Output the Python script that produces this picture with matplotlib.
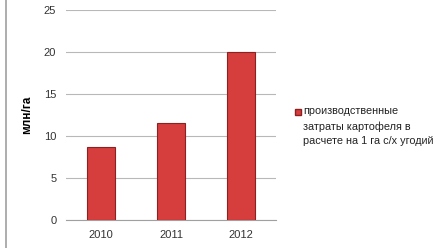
import matplotlib.pyplot as plt
from matplotlib.lines import Line2D

years = ['2010', '2011', '2012']
costs = [8.7, 11.5, 20.0]
legend_label = 'производственные\nзатраты картофеля в\nрасчете на 1 га с/х угодий'

plt.rcParams['font.family'] = ['Liberation Sans', 'DejaVu Sans']

fig = plt.figure(figsize=(4.42, 2.48), dpi=100)
ax = fig.add_axes([66 / 442, 28 / 248, 210 / 442, 210 / 248])

x = range(len(years))
ax.bar(x, costs, width=0.41, color='#d63d3d', edgecolor='#8e2020', linewidth=0.8, zorder=3)

ax.set_xlim(-0.5, 2.5)
ax.set_ylim(0, 25)
ax.set_yticks([0, 5, 10, 15, 20, 25])
ax.set_xticks(list(x))
ax.set_xticklabels(years)
ax.grid(axis='y', color='#b8b8b8', linewidth=0.8, zorder=0)
for side in ['top', 'right', 'left']:
    ax.spines[side].set_visible(False)
ax.spines['bottom'].set_color('#a0a0a0')
ax.tick_params(axis='both', length=0, labelsize=8, colors='#333333', pad=7)
ax.set_ylabel('млн/га', fontsize=8.5, fontweight='bold', labelpad=8)

# legend drawn by hand so the marker sits on the first line
fig.add_artist(Line2D([298 / 442], [1 - 112 / 248], marker='s', linestyle='none', markersize=5,
                      markerfacecolor='#d63d3d', markeredgecolor='#8e2020'))
fig.text(303 / 442, 1 - 106 / 248, legend_label, fontsize=7.8, color='#222222',
         va='top', ha='left', linespacing=1.6)

fig.add_artist(Line2D([6 / 442, 6 / 442], [0, 1], color='#a0a0a0', linewidth=1.2))

fig.savefig('out.png', dpi=100)
